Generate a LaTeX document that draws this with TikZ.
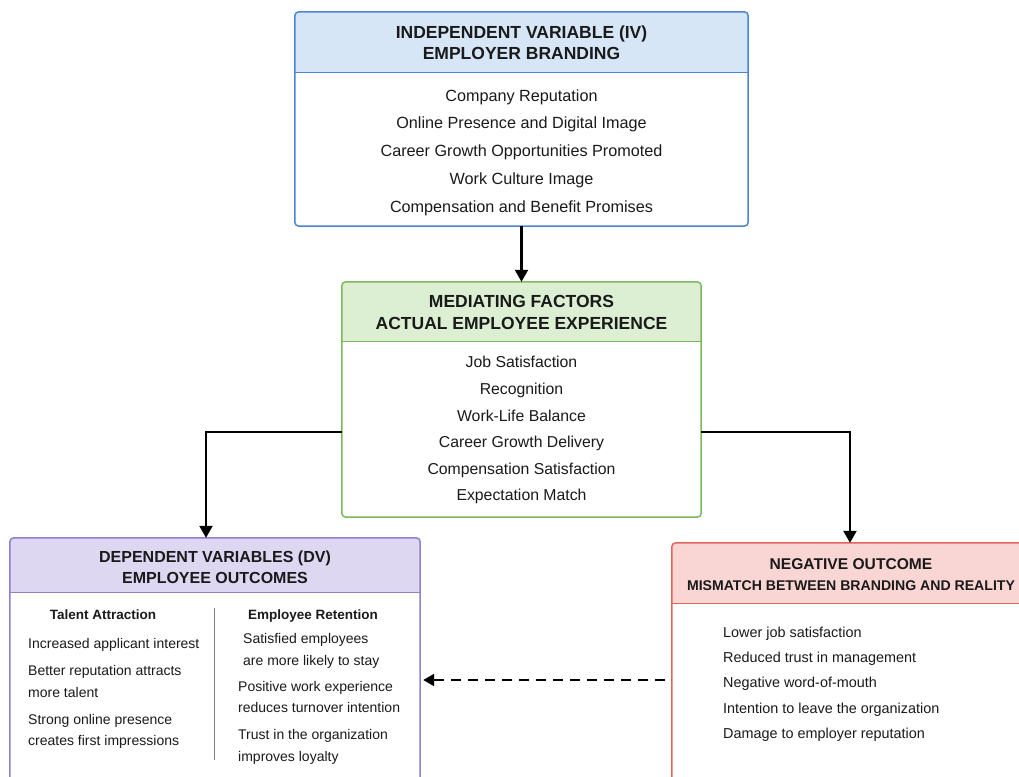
\documentclass[tikz,border=0pt]{standalone}
\usepackage{fontspec}
\setmainfont{Liberation Sans}
\usetikzlibrary{arrows.meta}
\definecolor{ivB}{HTML}{4A86D4}
\definecolor{ivF}{HTML}{D7E6F7}
\definecolor{medB}{HTML}{7DB85C}
\definecolor{medF}{HTML}{DCEFD3}
\definecolor{dvB}{HTML}{8E80CF}
\definecolor{dvF}{HTML}{DDD7F2}
\definecolor{negB}{HTML}{E0675E}
\definecolor{negF}{HTML}{F9D5D3}
\definecolor{ink}{HTML}{1A1A1A}
\tikzset{
  boxshape/.style={draw=none, inner sep=0pt, rectangle},
  hdA/.style={inner sep=0pt, text=ink, font=\bfseries\fontsize{17.5}{20}\selectfont, text height=12.5pt, text depth=0pt},
  hdB/.style={inner sep=0pt, text=ink, font=\bfseries\fontsize{16}{19}\selectfont, text height=11.5pt, text depth=0pt},
  hdC/.style={inner sep=0pt, text=ink, font=\bfseries\fontsize{14.1}{17}\selectfont, text height=10.1pt, text depth=0pt},
  bdA/.style={inner sep=0pt, text=ink, font=\fontsize{16.2}{19}\selectfont, text height=11.6pt, text depth=0pt},
  bdB/.style={inner sep=0pt, text=ink, font=\fontsize{15.8}{19}\selectfont, text height=11.3pt, text depth=0pt},
  bdC/.style={inner sep=0pt, text=ink, font=\fontsize{14}{17}\selectfont, text height=10pt, text depth=0pt, anchor=west},
  colhd/.style={inner sep=0pt, text=ink, font=\bfseries\fontsize{13.5}{16}\selectfont, text height=9.7pt, text depth=0pt},
  bdD/.style={inner sep=0pt, text=ink, font=\fontsize{14.4}{17}\selectfont, text height=10.3pt, text depth=0pt, anchor=west},
  conn/.style={line width=2.2pt, black, -{Triangle[length=12pt,width=13pt]}},
  dashconn/.style={line width=2.2pt, black, dash pattern=on 10pt off 7pt, -{Triangle[length=11pt,width=12pt]}},
  outline/.style={line width=1.5pt, rounded corners=4pt},
  divider/.style={line width=1.3pt}
}
\begin{document}
\begin{tikzpicture}[x=1pt,y=-1pt]
\useasboundingbox (0,0) rectangle (1019,776);
\fill[white] (0,0) rectangle (1019,776);
\clip (0,0) rectangle (1019,776);

% ---------- boxes (geometry) ----------
\node[boxshape, minimum width=453pt, minimum height=214pt] (iv) at (521.5,119) {};
\node[boxshape, minimum width=359pt, minimum height=235pt] (med) at (521.5,399.5) {};
\node[boxshape, minimum width=410pt, minimum height=262pt] (dv) at (215,669) {};
\node[boxshape, minimum width=363pt, minimum height=257pt] (neg) at (853.5,671.5) {};

% ---------- headers ----------
\begin{scope}
  \clip[rounded corners=4pt] (iv.north west) rectangle (iv.south east);
  \fill[ivF] (iv.north west) rectangle ([yshift=-61pt]iv.north east);
\end{scope}
\draw[ivB, divider] ([yshift=-61pt]iv.north west) -- ([yshift=-61pt]iv.north east);
\draw[ivB, outline] (iv.north west) rectangle (iv.south east);

\begin{scope}
  \clip[rounded corners=4pt] (med.north west) rectangle (med.south east);
  \fill[medF] (med.north west) rectangle ([yshift=-60pt]med.north east);
\end{scope}
\draw[medB, divider] ([yshift=-60pt]med.north west) -- ([yshift=-60pt]med.north east);
\draw[medB, outline] (med.north west) rectangle (med.south east);

\begin{scope}
  \clip[rounded corners=4pt] (dv.north west) rectangle (dv.south east);
  \fill[dvF] (dv.north west) rectangle ([yshift=-55pt]dv.north east);
\end{scope}
\draw[dvB, divider] ([yshift=-55pt]dv.north west) -- ([yshift=-55pt]dv.north east);
\draw[dvB, outline] (dv.north west) rectangle (dv.south east);

\begin{scope}
  \clip[rounded corners=4pt] (neg.north west) rectangle (neg.south east);
  \fill[negF] (neg.north west) rectangle ([yshift=-61pt]neg.north east);
\end{scope}
\draw[negB, divider] ([yshift=-61pt]neg.north west) -- ([yshift=-61pt]neg.north east);
\draw[negB, outline] (neg.north west) rectangle (neg.south east);

% ---------- IV texts ----------
\node[hdA] (ivt1) at (521.5,32) {INDEPENDENT VARIABLE (IV)};
\node[hdA] (ivt2) at (521.5,53) {EMPLOYER BRANDING};
\node[bdA] (iv1) at (521.5,96) {Company Reputation};
\node[bdA] (iv2) at (521.5,123) {Online Presence and Digital Image};
\node[bdA] (iv3) at (521.5,151) {Career Growth Opportunities Promoted};
\node[bdA] (iv4) at (521.5,179) {Work Culture Image};
\node[bdA] (iv5) at (521.5,207) {Compensation and Benefit Promises};

% ---------- Mediating texts ----------
\node[hdA] (mt1) at (521.5,301) {MEDIATING FACTORS};
\node[hdA] (mt2) at (521.5,323) {ACTUAL EMPLOYEE EXPERIENCE};
\node[bdB] (m1) at (521.5,362) {Job Satisfaction};
\node[bdB] (m2) at (521.5,389) {Recognition};
\node[bdB] (m3) at (521.5,416) {Work-Life Balance};
\node[bdB] (m4) at (521.5,442) {Career Growth Delivery};
\node[bdB] (m5) at (521.5,469) {Compensation Satisfaction};
\node[bdB] (m6) at (521.5,495) {Expectation Match};

% ---------- DV texts ----------
\node[hdB] (dt1) at (215,557) {DEPENDENT VARIABLES (DV)};
\node[hdB] (dt2) at (215,578) {EMPLOYEE OUTCOMES};
\node[colhd] (ch1) at (103,615) {Talent Attraction};
\node[colhd] (ch2) at (313,615) {Employee Retention};
\node[bdC] (a1) at (28,643) {Increased applicant interest};
\node[bdC] (a2) at (28,670) {Better reputation attracts};
\node[bdC] (a3) at (28,692) {more talent};
\node[bdC] (a4) at (28,719) {Strong online presence};
\node[bdC] (a5) at (28,740) {creates first impressions};
\node[bdC] (r1) at (243,638) {Satisfied employees};
\node[bdC] (r2) at (243,660) {are more likely to stay};
\node[bdC] (r3) at (238,686) {Positive work experience};
\node[bdC] (r4) at (238,707) {reduces turnover intention};
\node[bdC] (r5) at (238,734) {Trust in the organization};
\node[bdC] (r6) at (238,756) {improves loyalty};
\coordinate (sepT) at (214,608);
\coordinate (sepB) at (214,760);
\draw[gray, line width=1pt] (sepT) -- (sepB);

% ---------- Negative texts ----------
\node[hdB, font=\bfseries\fontsize{15.6}{19}\selectfont] (nt1) at (851,564) {NEGATIVE OUTCOME};
\node[hdC] (nt2) at (851,585) {MISMATCH BETWEEN BRANDING AND REALITY};
\node[bdD] (n1) at (723,632) {Lower job satisfaction};
\node[bdD] (n2) at (723,657) {Reduced trust in management};
\node[bdD] (n3) at (723,682) {Negative word-of-mouth};
\node[bdD] (n4) at (723,708) {Intention to leave the organization};
\node[bdD] (n5) at (723,733) {Damage to employer reputation};

% ---------- connectors ----------
\draw[conn] (iv.south) -- (med.north);
\draw[conn] ([yshift=-32.5pt]med.west) -| ([xshift=-9pt]dv.north);
\draw[conn] ([yshift=-32.5pt]med.east) -| ([xshift=-3.5pt]neg.north);
\draw[dashconn, shorten <=7pt, shorten >=3pt] ([yshift=-8.5pt]neg.west) -- ([yshift=-8.5pt]neg.west -| dv.east);
\end{tikzpicture}
\end{document}
